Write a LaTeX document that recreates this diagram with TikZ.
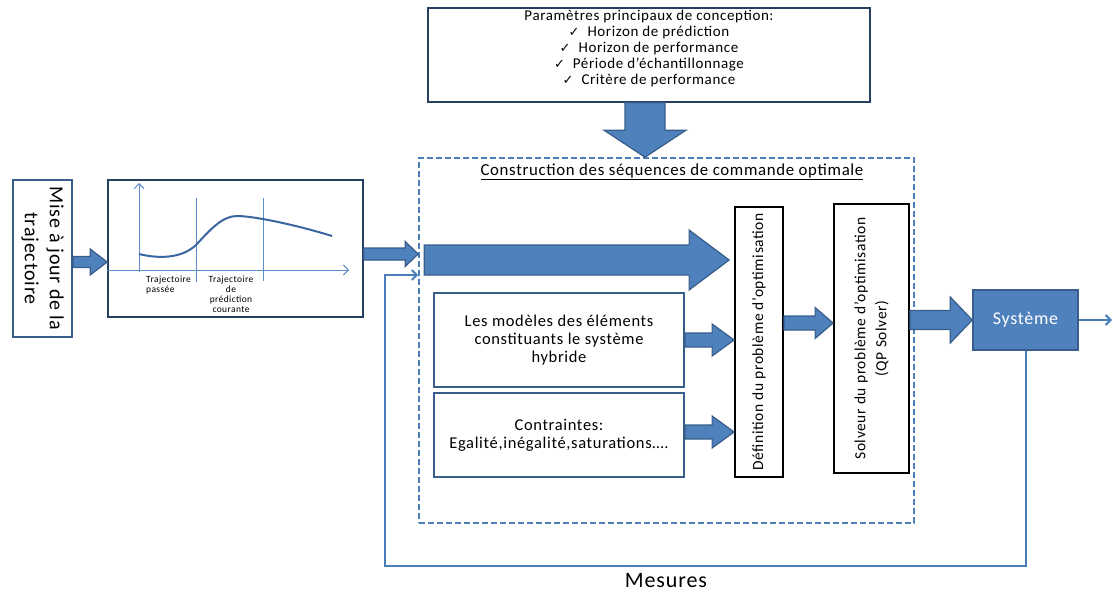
\documentclass[tikz,border=0pt]{standalone}
\usepackage{fontspec}
\setmainfont{Carlito}[LetterSpace=4]
\newfontfamily\symf{DejaVu Sans}
\usetikzlibrary{arrows.meta,calc}
\definecolor{bfill}{HTML}{4F81BD}
\definecolor{bedge}{HTML}{385D8A}
\definecolor{navy}{HTML}{243F60}
\definecolor{lblue}{HTML}{4A7EBB}
\definecolor{axisc}{HTML}{5B8BCB}
\definecolor{curvec}{HTML}{3A66A0}
\newcommand\harrow[5]{\draw[blockarr] let \p1=(#1), \p2=(#2) in
  (\x1,\y1+#3) -- (\x2-#5,\y1+#3) -- (\x2-#5,\y1+#4) -- (\x2,\y1) --
  (\x2-#5,\y1-#4) -- (\x2-#5,\y1-#3) -- (\x1,\y1-#3) -- cycle;}
\newcommand\varrow[5]{\draw[blockarr] let \p1=(#1), \p2=(#2) in
  (\x1-#3,\y1) -- (\x1-#3,\y2+#5) -- (\x1-#4,\y2+#5) -- (\x1,\y2) --
  (\x1+#4,\y2+#5) -- (\x1+#3,\y2+#5) -- (\x1+#3,\y1) -- cycle;}
\newcommand\chk{{\symf\fontsize{13}{16}\selectfont ✓}\ \ }
\tikzset{
  blockarr/.style={fill=bfill, draw=bedge, line width=1.2pt, line join=miter},
  navybox/.style={draw=navy, line width=1.6pt, fill=white, inner sep=0pt},
  bluebox/.style={draw=bedge, line width=1.8pt, fill=white, inner sep=0pt},
  blackbox/.style={draw=black, line width=1.8pt, fill=white, inner sep=0pt},
  dashbox/.style={draw=lblue, line width=1.6pt, dash pattern=on 6pt off 3pt, inner sep=0pt},
  axisline/.style={draw=axisc, line width=1pt},
  fb/.style={draw=lblue, line width=2pt},
  small/.style={font=\fontsize{9.5}{10}\selectfont},
}
\begin{document}
\begin{tikzpicture}[x=1pt,y=-1pt]
\useasboundingbox (0,0) rectangle (1113,594);
% helper levels
\coordinate (dA) at (645,0);
\coordinate (y262) at (0,262);
\coordinate (y254) at (0,254);
\coordinate (y260) at (0,260);
\coordinate (y340) at (0,340);
\coordinate (y432) at (0,432);
\coordinate (y323) at (0,323);
\coordinate (y320) at (0,320);
\coordinate (y275) at (0,275);
\coordinate (fbL) at (385,566);
\coordinate (out) at (1112,320);

% top parameters box
\node[navybox, minimum width=442pt, minimum height=94pt] (par) at (649,55) {};
\node[anchor=north, align=center, inner sep=0pt, font=\fontsize{15}{16}\selectfont] (partxt) at (649,10)
 {Paramètres principaux de conception:\\
  \chk Horizon de prédiction\\
  \chk Horizon de performance\\
  \chk Période d’échantillonnage\\
  \chk Critère de performance};

% dashed construction box
\node[dashbox, minimum width=495pt, minimum height=365pt] (ctrl) at (666.5,340.5) {};
\node[font=\fontsize{16.8}{18}\selectfont, inner sep=0pt] (ttl) at (672,172)
 {\underline{Construction des séquences de commande optimale}};

% down arrow
\varrow{par.south -| dA}{ctrl.north -| dA}{20}{41}{27}

% left box
\node[bluebox, rotate=-90, minimum width=157pt, minimum height=59pt, align=center,
      font=\fontsize{20}{25}\selectfont] (maj) at (42.5,258.5) {Mise à jour de la\\trajectoire};

% graph box
\node[navybox, minimum width=255pt, minimum height=137pt] (gr) at (235.5,248.5) {};
\draw[axisline, -{Straight Barb[length=5pt,width=10pt]}] (139,272) -- (139,183);
\draw[axisline, -{Straight Barb[length=5pt,width=10pt]}] (gr.west |- 0,270) -- (349,270);
\draw[axisline] (196,198) -- (196,282);
\draw[axisline] (263,198) -- (263,281);
\draw[curvec, line width=2pt] (139,254) .. controls (155,258) and (180,260) .. (196,245)
  .. controls (210,230) and (222,216) .. (237,216)
  .. controls (255,216) and (300,226) .. (332,236);
\node[small, align=left, anchor=north west, inner sep=0pt] (tp) at (146,276) {Trajectoire\\passée};
\node[small, align=center, anchor=north, inner sep=0pt] (tc) at (231,276) {Trajectoire\\de\\prédiction\\courante};

% inner boxes
\node[bluebox, minimum width=250pt, minimum height=94pt, align=center,
      font=\fontsize{16.5}{18}\selectfont] (mod) at (559,340)
      {Les modèles des éléments\\constituants le système\\hybride};
\node[bluebox, minimum width=250pt, minimum height=84pt, align=center,
      font=\fontsize{16.5}{18}\selectfont] (con) at (559,435)
      {Contraintes:\\Egalité,inégalité,saturations….};
\node[blackbox, rotate=90, minimum width=270pt, minimum height=48pt,
      font=\fontsize{15.5}{18}\selectfont] (def) at (759,342) {Définition du problème d’optimisation};
\node[blackbox, rotate=90, minimum width=269pt, minimum height=75pt, align=center,
      font=\fontsize{15.5}{21}\selectfont] (sol) at (871.5,338.5) {Solveur du problème d’optimisation\\(QP Solver)};

% system
\node[fill=bfill, draw=bedge, line width=1.5pt, minimum width=105pt, minimum height=60pt,
      text=white, font=\fontsize{18}{18}\selectfont] (sys) at (1025.5,320) {Système};

% block arrows
\harrow{maj.north |- y262}{gr.west |- y262}{5.5}{13}{17}
\harrow{gr.east |- y254}{ctrl.west |- y254}{6}{12.5}{13}
\harrow{$(ctrl.west |- y260)+(6,0)$}{$(def.north |- y260)+(-5,0)$}{15}{30}{40}
\harrow{mod.east |- y340}{def.north |- y340}{7}{16}{22}
\harrow{con.east |- y432}{def.north |- y432}{7}{16}{22}
\harrow{def.south |- y323}{sol.north |- y323}{7}{15.5}{18}
\harrow{sol.south |- y320}{sys.west |- y320}{9.5}{23}{22}

% feedback and output
\draw[fb, -{Straight Barb[length=5pt,width=10pt]}] (sys.south) |- (fbL) |- (ctrl.west |- y275);
\draw[fb, -{Straight Barb[length=5pt,width=10pt]}] (sys.east) -- (out);
\node[font=\fontsize{22}{22}\selectfont, inner sep=0pt] (mes) at (666,581) {Mesures};
\end{tikzpicture}
\end{document}
